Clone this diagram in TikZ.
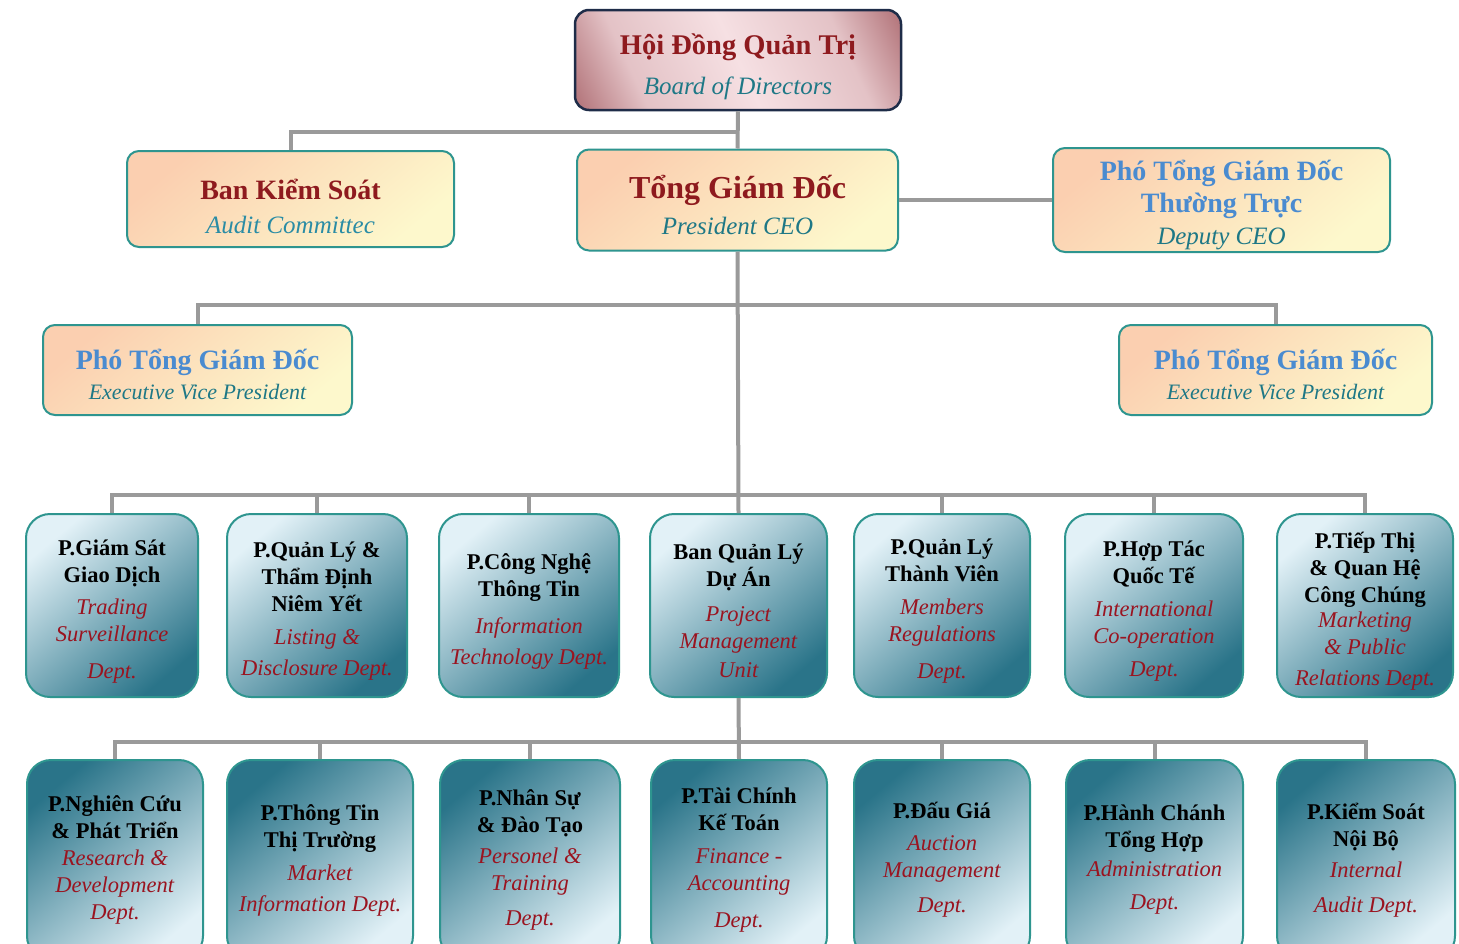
\documentclass[tikz,border=0pt]{standalone}
\usepackage{fontspec}
\setmainfont{Liberation Serif}
\definecolor{lineg}{HTML}{9A9A9A}
\definecolor{tealb}{HTML}{2E958F}
\definecolor{navyb}{HTML}{1E2C48}
\definecolor{darkred}{HTML}{8E1A1E}
\definecolor{boardred}{HTML}{7A1A22}
\definecolor{boardpink}{HTML}{F6E0E3}
\definecolor{tealtxt}{HTML}{1E7886}
\definecolor{tealtxtl}{HTML}{2A8CA5}
\definecolor{bluetxt}{HTML}{4A8BD0}
\definecolor{peachc}{HTML}{FBCFB0}
\definecolor{yellowc}{HTML}{FDF8CC}
\definecolor{lightb}{HTML}{E2F1F7}
\definecolor{darkb}{HTML}{2A7489}
\definecolor{redtxt}{HTML}{9A1420}
\pgfdeclarehorizontalshading{boardshade}{100bp}{color(0bp)=(boardred); color(14bp)=(boardred!65!boardpink); color(30bp)=(boardpink!85!boardred); color(50bp)=(boardpink); color(70bp)=(boardpink!85!boardred); color(86bp)=(boardred!65!boardpink); color(100bp)=(boardred)}
\newcommand\ktext[1]{\textbf{#1}}
\newcommand\ftext[1]{\rule{0pt}{27pt}\textbf{#1}}
\newcommand\etext[1]{\textcolor{redtxt}{\textit{#1}}}
\newcommand\vnhead[3]{\textcolor{#1}{\fontsize{#2}{#2}\selectfont\bfseries #3}}
\newcommand\enline[3]{\textcolor{#1}{\fontsize{#2}{#2}\selectfont\itshape #3}}
\begin{document}
\begin{tikzpicture}[x=1pt,y=-1pt,
  conn/.style={draw=lineg, line width=4pt},
  ttext/.style={align=center, inner sep=0pt},
  peachbox/.style={draw=tealb, line width=2pt, rounded corners=12pt,
    top color=peachc, bottom color=yellowc, shading angle=40},
  boardbox/.style={draw=navyb, line width=2.5pt, rounded corners=14pt,
    shading=boardshade, shading angle=25},
  deptbox/.style={draw=tealb, line width=2pt, rounded corners=24pt,
    align=center, inner sep=1pt, text=black,
    font=\fontsize{22.5}{27}\selectfont},
  rowone/.style={deptbox, top color=lightb, bottom color=darkb, shading angle=40,
    minimum height=183pt},
  rowtwo/.style={deptbox, top color=darkb, bottom color=lightb, shading angle=40,
    minimum height=200pt},
]
\useasboundingbox (0,0) rectangle (1459,943);
\clip (0,0) rectangle (1459,943);
\fill[white] (0,0) rectangle (1459,943);

% junction coordinates
\coordinate (j1) at (738,132);
\coordinate (j2) at (738,305);
\coordinate (bus1) at (738,495);
\coordinate (bus2) at (738,742);

% top levels: boxes
\node[boardbox, minimum width=326pt, minimum height=100pt] (board) at (738,60) {};
\node[peachbox, minimum width=327pt, minimum height=96pt] (audit) at (290.5,199) {};
\node[peachbox, minimum width=321pt, minimum height=101pt] (ceo) at (737.5,200) {};
\node[peachbox, minimum width=337pt, minimum height=104pt] (dep) at (1221.5,200) {};
\node[peachbox, minimum width=309pt, minimum height=90pt] (evpl) at (197.5,370) {};
\node[peachbox, minimum width=313pt, minimum height=90pt] (evpr) at (1275.5,370) {};

% top levels: texts
\node[ttext] (boardt) at (738,66.5)
 {\vnhead{darkred}{28.5}{Hội Đồng Quản Trị}\\[15pt]
  \enline{tealtxt}{25}{Board of Directors}};
\node[ttext] (auditt) at (290.5,206.5)
 {\vnhead{darkred}{28}{Ban Kiểm Soát}\\[15pt]
  \enline{tealtxtl}{25}{Audit Committec}};
\node[ttext] (ceot) at (737.5,205)
 {\vnhead{darkred}{32}{Tổng Giám Đốc}\\[10pt]
  \enline{tealtxt}{25}{President CEO}};
\node[ttext] (dept) at (1221.5,205)
 {\vnhead{bluetxt}{28}{Phó Tổng Giám Đốc}\\[6pt]
  \vnhead{bluetxt}{28}{Thường Trực}\\[8pt]
  \enline{tealtxt}{25}{Deputy CEO}};
\node[ttext] (evplt) at (197.5,374.5)
 {\vnhead{bluetxt}{28}{Phó Tổng Giám Đốc}\\[7pt]
  \enline{tealtxt}{22}{Executive Vice President}};
\node[ttext] (evprt) at (1275.5,374.5)
 {\vnhead{bluetxt}{28}{Phó Tổng Giám Đốc}\\[7pt]
  \enline{tealtxt}{22}{Executive Vice President}};

% row one
\node[rowone, minimum width=172pt] (r1a) at (112,605.5)
 {\ftext{P.Giám Sát}\\\ktext{Giao Dịch}\\[5pt]\etext{Trading}\\\etext{Surveillance}\\[10pt]\etext{Dept.}};
\node[rowone, minimum width=180pt] (r1b) at (317,605.5)
 {\ftext{P.Quản Lý \&}\\\ktext{Thẩm Định}\\\ktext{Niêm Yết}\\[6pt]\etext{Listing \&}\\[4pt]\etext{Disclosure Dept.}};
\node[rowone, minimum width=180pt] (r1c) at (529,605.5)
 {\ftext{P.Công Nghệ}\\\ktext{Thông Tin}\\[10pt]\etext{Information}\\[4pt]\etext{Technology Dept.}};
\node[rowone, minimum width=177pt] (r1d) at (738.5,605.5)
 {\ftext{Ban Quản Lý}\\\ktext{Dự Án}\\[8pt]\etext{Project}\\\etext{Management}\\[2pt]\etext{Unit}};
\node[rowone, minimum width=176pt] (r1e) at (942,605.5)
 {\ftext{P.Quản Lý}\\\ktext{Thành Viên}\\[6pt]\etext{Members}\\\etext{Regulations}\\[10pt]\etext{Dept.}};
\node[rowone, minimum width=178pt] (r1f) at (1154,605.5)
 {\ftext{P.Hợp Tác}\\\ktext{Quốc Tế}\\[6pt]\etext{International}\\\etext{Co-operation}\\[6pt]\etext{Dept.}};
\node[rowone, minimum width=176pt] (r1g) at (1365,605.5)
 {\ftext{P.Tiếp Thị}\\\ktext{\& Quan Hệ}\\\ktext{Công Chúng}\\[-2pt]\etext{Marketing}\\\etext{\& Public}\\[4pt]\etext{Relations Dept.}};

% row two
\node[rowtwo, minimum width=176pt] (r2a) at (115,860)
 {\ktext{P.Nghiên Cứu}\\\ktext{\& Phát Triển}\\\etext{Research \&}\\\etext{Development}\\\etext{Dept.}};
\node[rowtwo, minimum width=186pt] (r2b) at (320,860)
 {\ktext{P.Thông Tin}\\\ktext{Thị Trường}\\[6pt]\etext{Market}\\[4pt]\etext{Information Dept.}};
\node[rowtwo, minimum width=180pt] (r2c) at (530,860)
 {\ktext{P.Nhân Sự}\\\ktext{\& Đào Tạo}\\[4pt]\etext{Personel \&}\\\etext{Training}\\[8pt]\etext{Dept.}};
\node[rowtwo, minimum width=176pt] (r2d) at (739,860)
 {\ktext{P.Tài Chính}\\\ktext{Kế Toán}\\[6pt]\etext{Finance -}\\\etext{Accounting}\\[10pt]\etext{Dept.}};
\node[rowtwo, minimum width=176pt] (r2e) at (942,860)
 {\ktext{P.Đấu Giá}\\[5pt]\etext{Auction}\\\etext{Management}\\[8pt]\etext{Dept.}};
\node[rowtwo, minimum width=177pt] (r2f) at (1154.5,860)
 {\ktext{P.Hành Chánh}\\\ktext{Tổng Hợp}\\[2pt]\etext{Administration}\\[6pt]\etext{Dept.}};
\node[rowtwo, minimum width=178pt] (r2g) at (1366,860)
 {\ktext{P.Kiểm Soát}\\\ktext{Nội Bộ}\\[4pt]\etext{Internal}\\[8pt]\etext{Audit Dept.}};

% connectors
\draw[conn] (board.south) -- (ceo.north);
\draw[conn] (audit.north) |- (j1);
\draw[conn] (ceo.east) -- (dep.west);
\draw[conn] (ceo.south) -- (r1d.north);
\draw[conn] (evpl.north) |- (j2);
\draw[conn] (evpr.north) |- (j2);
\foreach \n in {r1a,r1b,r1c,r1e,r1f,r1g} \draw[conn] (\n.north) |- (bus1);
\draw[conn] (r1d.south) -- (r2d.north);
\foreach \n in {r2a,r2b,r2c,r2e,r2f,r2g} \draw[conn] (\n.north) |- (bus2);
\end{tikzpicture}
\end{document}
